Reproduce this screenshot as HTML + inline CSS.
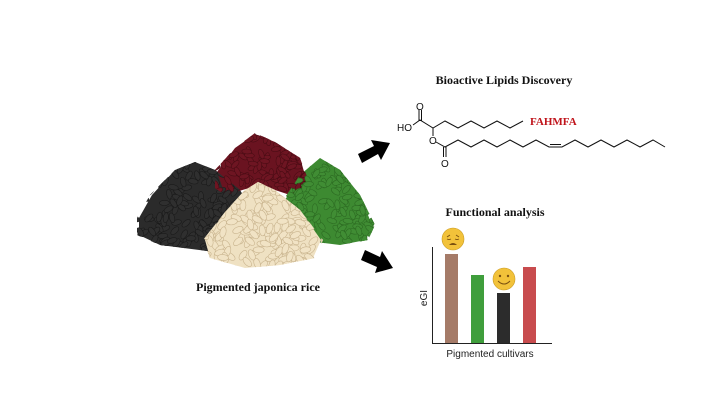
<!DOCTYPE html>
<html><head><meta charset="utf-8"><style>
html,body{margin:0;padding:0;background:#fff;width:720px;height:405px;overflow:hidden}
svg{display:block}
</style></head><body>
<svg id="s" width="720" height="405" viewBox="0 0 720 405" xmlns="http://www.w3.org/2000/svg">
<defs>
<clipPath id="cb"><polygon points="137,218 150,195 175,170 195,162 215,170 240,190 255,215 250,245 215,252 160,245 137,235"/></clipPath>
<clipPath id="cr"><polygon points="215,170 235,148 255,133 275,142 300,158 310,185 290,195 260,185 225,195 215,188"/></clipPath>
<clipPath id="cg"><polygon points="280,205 300,175 320,158 340,170 360,195 375,225 368,240 340,245 300,240 280,225"/></clipPath>
<clipPath id="cc"><polygon points="203,240 225,212 245,190 258,182 275,190 300,210 323,240 315,258 280,265 245,268 210,258"/></clipPath>
</defs>
<g id="piles">
<polygon points="139,218 152,195 175,170 195,162 215,170 240,190 255,215 250,245 215,252 160,245 139,235" fill="#2b2b2b"/>
<polygon points="217,172 235,148 255,134 275,142 300,158 308,185 290,195 260,185 225,195" fill="#6a1320"/>
<polygon points="282,205 300,175 320,158 340,170 360,195 372,225 366,240 340,245 300,240 282,225" fill="#3d8a31"/>
<g id="gb" clip-path="url(#cb)"></g>
<g id="gr" clip-path="url(#cr)"></g>
<g id="gg" clip-path="url(#cg)"></g>
<polygon points="205,240 225,212 245,190 258,182 275,190 300,210 321,240 313,258 280,265 245,268 210,258" fill="#efe1c2"/>
<g id="gc" clip-path="url(#cc)"></g>
</g>
<text x="258" y="291" font-family="Liberation Serif" font-weight="bold" font-size="12" text-anchor="middle" fill="#111">Pigmented japonica rice</text>

<!-- arrows -->
<g fill="#000">
<polygon points="358,154 374,146 371,140 390,143 381,160 378,154 362,163"/>
<polygon points="365,250 380,257 382,251 393,268 375,273 377,267 361,260"/>
</g>

<text x="504" y="84" font-family="Liberation Serif" font-weight="bold" font-size="12" text-anchor="middle" fill="#111">Bioactive Lipids Discovery</text>
<text x="530" y="125" font-family="Liberation Serif" font-weight="bold" font-size="11" fill="#c0141b">FAHMFA</text>
<g stroke="#111" stroke-width="1" fill="none">
<polyline points="413,125 420,120 433,128 445,121 458,128 471,121 484,128 497,121 510,128 523,121"/>
<line x1="419" y1="121" x2="419" y2="110"/><line x1="421.5" y1="121" x2="421.5" y2="110"/>
<line x1="433" y1="128" x2="433" y2="136"/>
<polyline points="436,142 445,147 458,140 471,147 484,140 497,147 510,140 523,147 536,140 549,147 562,147 575,140 588,147 601,140 614,147 627,140 640,147 653,140 665,147"/>
<line x1="550" y1="144.5" x2="561" y2="144.5"/>
<line x1="443.5" y1="147" x2="443.5" y2="157"/><line x1="446" y1="147" x2="446" y2="157"/>
</g>
<g font-family="Liberation Sans" font-size="10" fill="#111">
<text x="416" y="110">O</text>
<text x="397" y="131">HO</text>
<text x="429" y="144">O</text>
<text x="441" y="167">O</text>
</g>

<text x="495" y="216" font-family="Liberation Serif" font-weight="bold" font-size="12" text-anchor="middle" fill="#111">Functional analysis</text>
<g stroke="#222" stroke-width="1"><line x1="432.5" y1="247" x2="432.5" y2="343.5"/><line x1="432" y1="343.5" x2="552" y2="343.5"/></g>
<rect x="445" y="254" width="13" height="89" fill="#a57b68"/>
<rect x="471" y="275" width="13" height="68" fill="#3f9e3c"/>
<rect x="497" y="293" width="13" height="50" fill="#2c2c2c"/>
<rect x="523" y="267" width="13" height="76" fill="#c84c4e"/>
<text x="427" y="298" font-family="Liberation Sans" font-size="10" fill="#222" transform="rotate(-90 427 298)" text-anchor="middle">eGI</text>
<text x="490" y="357" font-family="Liberation Sans" font-size="10" fill="#222" text-anchor="middle">Pigmented cultivars</text>
<g>
<circle cx="453" cy="239" r="11" fill="#f2c23a" stroke="#c99a20" stroke-width="0.6"/>
<path d="M447 237 l3 -2 M459 237 l-3 -2 M447 239 q2 1 4 0 M455 239 q2 1 4 0" stroke="#7a5010" stroke-width="0.9" fill="none"/>
<path d="M449 245 q4 -4 8 0 z" fill="#7a5010"/>
<circle cx="504" cy="279" r="11" fill="#f2c23a" stroke="#c99a20" stroke-width="0.6"/>
<circle cx="500" cy="276" r="1.2" fill="#7a5010"/><circle cx="508" cy="276" r="1.2" fill="#7a5010"/>
<path d="M498 281 q6 6 12 0" stroke="#7a5010" stroke-width="1" fill="none"/>
</g>
</svg>
<script>
(function(){
var seed=7;function r(){seed=(seed*16807)%2147483647;return seed/2147483647;}
var NS="http://www.w3.org/2000/svg";
function fill(id,x0,y0,x1,y1,n,fc,sc,rx,ry){var g=document.getElementById(id);
for(var i=0;i<n;i++){var e=document.createElementNS(NS,"ellipse");var x=x0+r()*(x1-x0),y=y0+r()*(y1-y0);
e.setAttribute("cx",x.toFixed(1));e.setAttribute("cy",y.toFixed(1));e.setAttribute("rx",rx);e.setAttribute("ry",ry);
e.setAttribute("transform","rotate("+(r()*180).toFixed(0)+" "+x.toFixed(1)+" "+y.toFixed(1)+")");
e.setAttribute("fill",fc);e.setAttribute("stroke",sc);e.setAttribute("stroke-width","0.6");g.appendChild(e);}}
fill("gb",135,160,256,254,220,"#2f2f2f","#1a1a1a",5,2.6);
fill("gr",212,130,312,198,160,"#6e1522","#4a0c14",5,2.4);
fill("gg",278,155,378,248,190,"#408d34","#2c6a22",5,2.6);
fill("gc",200,180,325,270,230,"#f1e3c5","#c9b48e",5.5,3);
})();
</script>
</body></html>
